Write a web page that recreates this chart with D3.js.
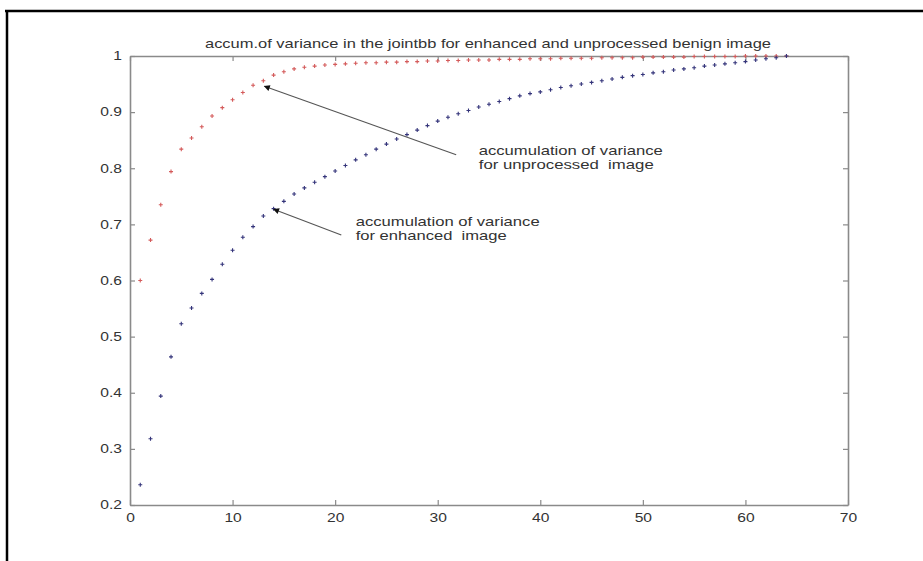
<!DOCTYPE html>
<html>
<head>
<meta charset="utf-8">
<script src="https://cdn.jsdelivr.net/npm/d3@7"></script>
<style>
  html, body { margin: 0; padding: 0; background: #ffffff; }
  svg { display: block; }
  text { font-family: "Liberation Sans", Arial, Helvetica, sans-serif; fill: #333; }
</style>
</head>
<body>
<svg id="chart" width="923" height="561"></svg>
<script>
// Accumulated variance per component count (1..64)
const components = d3.range(1, 65);

const unprocessedAccum = [
  0.600, 0.672, 0.735, 0.794, 0.834, 0.854, 0.874, 0.893, 0.908, 0.922,
  0.935, 0.948, 0.956, 0.966, 0.972, 0.977, 0.980, 0.982, 0.984, 0.985,
  0.986, 0.987, 0.988, 0.988, 0.989, 0.989, 0.990, 0.990, 0.991, 0.991,
  0.992, 0.992, 0.993, 0.993, 0.993, 0.994, 0.994, 0.994, 0.995, 0.995,
  0.995, 0.996, 0.996, 0.996, 0.996, 0.997, 0.997, 0.997, 0.997, 0.998,
  0.998, 0.998, 0.998, 0.998, 0.999, 0.999, 0.999, 0.999, 0.999, 1.000,
  1.000, 1.000, 1.000, 1.000
];

const enhancedAccum = [
  0.236, 0.318, 0.394, 0.464, 0.523, 0.551, 0.577, 0.602, 0.629, 0.654,
  0.677, 0.696, 0.715, 0.728, 0.741, 0.754, 0.765, 0.775, 0.785, 0.795,
  0.805, 0.815, 0.824, 0.834, 0.843, 0.852, 0.860, 0.868, 0.876, 0.884,
  0.891, 0.897, 0.903, 0.909, 0.914, 0.919, 0.924, 0.929, 0.933, 0.936,
  0.940, 0.944, 0.947, 0.950, 0.953, 0.956, 0.959, 0.962, 0.965, 0.967,
  0.970, 0.972, 0.975, 0.977, 0.979, 0.982, 0.984, 0.986, 0.988, 0.990,
  0.993, 0.995, 0.997, 1.000
];

const xTickValues = [0, 10, 20, 30, 40, 50, 60, 70];
const xTickLabels = ["0", "10", "20", "30", "40", "50", "60", "70"];
const yTickValues = [0.2, 0.3, 0.4, 0.5, 0.6, 0.7, 0.8, 0.9, 1.0];
const yTickLabels = ["0.2", "0.3", "0.4", "0.5", "0.6", "0.7", "0.8", "0.9", "1"];

const titleText = "accum.of variance in the jointbb for enhanced and unprocessed benign image";

// Annotation text and arrows, placed in data units
const notes = [
  { lines: ["accumulation of variance", "for unprocessed  image"], x: 34.0, y: 0.830,
    tail: [31.8, 0.824], head: [13.1, 0.946] },
  { lines: ["accumulation of variance", "for enhanced  image"], x: 22.0, y: 0.704,
    tail: [20.6, 0.681], head: [14.0, 0.727] }
];

const svg = d3.select("#chart");
const W = 923, H = 561;
const plot = { left: 130, right: 848, top: 56, bottom: 505 };

svg.append("rect").attr("width", W).attr("height", H).attr("fill", "#ffffff");

// outer frame (top and left edges)
svg.append("line").attr("x1", 5).attr("x2", W).attr("y1", 11).attr("y2", 11)
  .attr("stroke", "#000").attr("stroke-width", 2.5);
svg.append("line").attr("x1", 7).attr("x2", 7).attr("y1", 10).attr("y2", H)
  .attr("stroke", "#000").attr("stroke-width", 2.5);

const x = d3.scaleLinear().domain([0, 70]).range([plot.left, plot.right]);
const y = d3.scaleLinear().domain([0.2, 1.0]).range([plot.bottom, plot.top]);

const axisColor = "#8a8a8a";
function styleAxis(g) {
  g.select(".domain").attr("stroke", axisColor).attr("stroke-width", 1.6);
  g.selectAll(".tick line").attr("stroke", axisColor).attr("stroke-width", 1.2);
  g.selectAll(".tick text")
    .attr("font-size", 12)
    .attr("fill", "#444")
    .style("font-family", "'Liberation Sans', Arial, sans-serif");
}

// stretch tick labels a little wider than the font's natural width
function widen(sel, k) {
  sel.each(function () {
    const len = this.getComputedTextLength();
    d3.select(this).attr("textLength", len * k).attr("lengthAdjust", "spacingAndGlyphs");
  });
}

const gx = svg.append("g").attr("transform", `translate(0,${plot.bottom})`)
  .call(d3.axisBottom(x).tickValues(xTickValues)
    .tickFormat((d, i) => xTickLabels[i]).tickSizeInner(-5).tickSizeOuter(0).tickPadding(8));
styleAxis(gx);
widen(gx.selectAll(".tick text"), 1.3);

const gxTop = svg.append("g").attr("transform", `translate(0,${plot.top})`)
  .call(d3.axisTop(x).tickValues(xTickValues).tickFormat("").tickSizeInner(-5).tickSizeOuter(0));
styleAxis(gxTop);

const gy = svg.append("g").attr("transform", `translate(${plot.left},0)`)
  .call(d3.axisLeft(y).tickValues(yTickValues)
    .tickFormat((d, i) => yTickLabels[i]).tickSizeInner(-5).tickSizeOuter(0).tickPadding(8));
styleAxis(gy);
widen(gy.selectAll(".tick text"), 1.3);

const gyRight = svg.append("g").attr("transform", `translate(${plot.right},0)`)
  .call(d3.axisRight(y).tickValues(yTickValues).tickFormat("").tickSizeInner(-5).tickSizeOuter(0));
styleAxis(gyRight);

// title
svg.append("text")
  .attr("x", (plot.left + plot.right) / 2 - 1)
  .attr("y", 48)
  .attr("text-anchor", "middle")
  .attr("font-size", 13.5)
  .attr("fill", "#2a2a2a")
  .attr("textLength", 566)
  .attr("lengthAdjust", "spacingAndGlyphs")
  .text(titleText);

// point markers: small plus signs
function plusPath(px, py, r) {
  return `M${px - r},${py}H${px + r}M${px},${py - r}V${py + r}`;
}

function drawSeries(values, color, cls) {
  svg.append("g").attr("class", cls)
    .selectAll("path")
    .data(components.map((c, i) => ({ c, v: values[i] })))
    .join("path")
    .attr("d", d => plusPath(x(d.c), y(d.v), 2))
    .attr("stroke", color)
    .attr("stroke-width", 1.1)
    .attr("fill", "none");
}

drawSeries(unprocessedAccum, "#d45a5a", "unprocessed");
drawSeries(enhancedAccum, "#34347a", "enhanced");

// arrowhead marker
const defs = svg.append("defs");
defs.append("marker")
  .attr("id", "arrowhead")
  .attr("viewBox", "0 0 10 10")
  .attr("refX", 9).attr("refY", 5)
  .attr("markerWidth", 10).attr("markerHeight", 6)
  .attr("markerUnits", "userSpaceOnUse")
  .attr("orient", "auto")
  .append("path")
  .attr("d", "M0,0L10,5L0,10Z")
  .attr("fill", "#111");

const lineWidths = [[184, 175], [184, 151]];

notes.forEach((n, k) => {
  svg.append("line")
    .attr("x1", x(n.tail[0])).attr("y1", y(n.tail[1]))
    .attr("x2", x(n.head[0])).attr("y2", y(n.head[1]))
    .attr("stroke", "#555").attr("stroke-width", 1.1)
    .attr("marker-end", "url(#arrowhead)");

  n.lines.forEach((t, i) => {
    svg.append("text")
      .attr("x", x(n.x))
      .attr("y", y(n.y) + i * 14 + 4)
      .attr("font-size", 13)
      .attr("fill", "#2a2a2a")
      .attr("textLength", lineWidths[k][i])
      .attr("lengthAdjust", "spacingAndGlyphs")
      .style("white-space", "pre")
      .text(t);
  });
});
</script>
</body>
</html>
